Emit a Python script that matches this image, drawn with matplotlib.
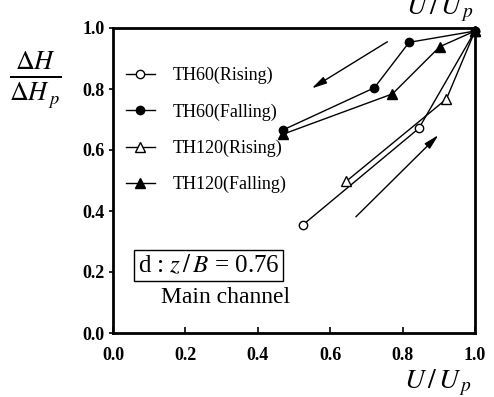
import matplotlib
matplotlib.use("Agg")
import matplotlib.pyplot as plt

plt.rcParams["font.family"] = ["Liberation Serif", "DejaVu Serif"]
plt.rcParams["mathtext.fontset"] = "stix"

# Normalised velocity (U/Up) and head difference (dH/dHp) for each run
th60_rise_x = [0.524, 0.845, 1.0]
th60_rise_y = [0.354, 0.671, 0.99]
th60_fall_x = [1.0, 0.818, 0.722, 0.470]
th60_fall_y = [0.99, 0.953, 0.804, 0.666]
th120_rise_x = [0.645, 0.921, 1.0]
th120_rise_y = [0.498, 0.767, 0.99]
th120_fall_x = [1.0, 0.903, 0.772, 0.470]
th120_fall_y = [0.99, 0.939, 0.784, 0.652]

labels = ["TH60(Rising)", "TH60(Falling)", "TH120(Rising)", "TH120(Falling)"]
tick_vals = [0.0, 0.2, 0.4, 0.6, 0.8, 1.0]
tick_labels = ["0.0", "0.2", "0.4", "0.6", "0.8", "1.0"]

fig = plt.figure(figsize=(4.94, 3.97), dpi=100)
ax = fig.add_axes([113 / 494, 1 - 333 / 397, 362 / 494, 305 / 397])

lw = 1.0
ms = 6
ax.plot(th60_rise_x, th60_rise_y, "-o", color="black", mfc="white", mec="black",
        lw=lw, ms=ms, mew=1.0, label=labels[0], clip_on=False)
ax.plot(th60_fall_x, th60_fall_y, "-o", color="black", mfc="black",
        lw=lw, ms=ms, label=labels[1], clip_on=False)
ax.plot(th120_rise_x, th120_rise_y, "-^", color="black", mfc="white", mec="black",
        lw=lw, ms=ms + 1, mew=1.0, label=labels[2], clip_on=False)
ax.plot(th120_fall_x, th120_fall_y, "-^", color="black", mfc="black",
        lw=lw, ms=ms + 1, label=labels[3], clip_on=False)

# Direction arrows for falling and rising limbs
arrow = dict(arrowstyle="-|>,head_length=0.9,head_width=0.22", color="black", lw=1.0,
             shrinkA=0, shrinkB=0)
ax.annotate("", xy=(0.549, 0.802), xytext=(0.758, 0.955), arrowprops=arrow)
ax.annotate("", xy=(0.899, 0.649), xytext=(0.671, 0.381), arrowprops=arrow)

ax.set_xlim(0, 1)
ax.set_ylim(0, 1)
ax.set_xticks(tick_vals)
ax.set_yticks(tick_vals)
ax.set_xticklabels(tick_labels, fontweight="bold", fontsize=13)
ax.set_yticklabels(tick_labels, fontweight="bold", fontsize=13)
ax.tick_params(axis="x", direction="in", length=4, width=1.2, pad=10)
ax.tick_params(axis="y", direction="out", length=3, width=1.2, pad=3)
for s in ax.spines.values():
    s.set_linewidth(2.0)

leg = ax.legend(loc="upper left", bbox_to_anchor=(0.0, 0.913), frameon=False,
                fontsize=13, handlelength=1.6, handletextpad=1.0,
                labelspacing=1.05, borderaxespad=0.3)

ax.text(0.265, 0.222, r"d : $z\,/\,B$ = 0.76", fontsize=18, ha="center", va="center",
        transform=ax.transAxes,
        bbox=dict(boxstyle="square,pad=0.15", fc="white", ec="black", lw=1.0))
ax.text(0.31, 0.118, "Main channel", fontsize=17, ha="center", va="center",
        transform=ax.transAxes)

# Axis labels
fig.text(35 / 494, 1 - 80 / 397, r"$\frac{\Delta H}{\Delta H_{\,p}}$", fontsize=27,
         ha="center", va="center")
fig.text(438 / 494, 1 - 383 / 397, r"$U\,/\,U_{\,p}$", fontsize=20, ha="center", va="center")
fig.text(440 / 494, 1 - 9 / 397, r"$U\,/\,U_{\,p}$", fontsize=20, ha="center", va="center")

fig.savefig("out.png", dpi=100)
